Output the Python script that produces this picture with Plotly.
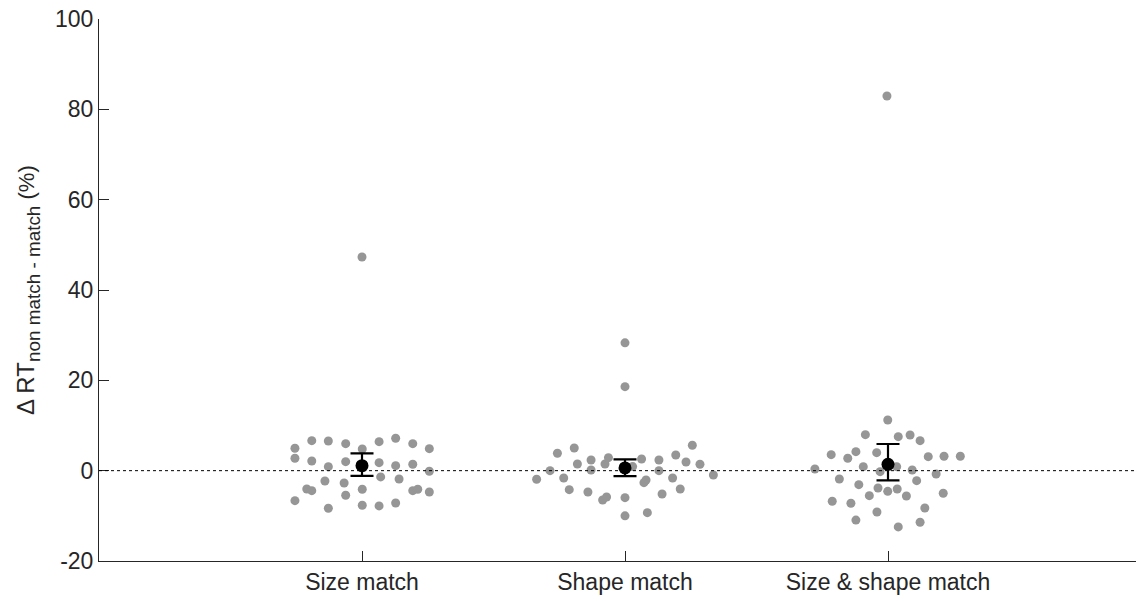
import plotly.graph_objects as go

# ---- data ----
categories = ["Size match", "Shape match", "Size & shape match"]
cat_pos = [1, 2, 3]

size_x = [0.745, 0.809, 0.872, 0.938, 1.001, 1.065, 1.128, 1.193, 1.256,
          0.745, 0.809, 0.872, 0.938, 1.065, 1.128, 1.193, 1.256,
          0.859, 0.932, 1.071, 1.141,
          0.790, 0.809, 0.938, 1.001, 1.193, 1.212, 1.256,
          0.745, 0.872, 1.001, 1.065, 1.128,
          1.000]
size_y = [4.96, 6.64, 6.58, 5.98, 4.80, 6.42, 7.17, 5.98, 4.87,
          2.75, 2.15, 0.89, 1.99, 1.77, 1.11, 1.42, -0.13,
          -2.28, -2.72, -1.39, -1.84,
          -4.05, -4.43, -5.45, -4.12, -4.43, -4.12, -4.72,
          -6.64, -8.32, -7.66, -7.81, -7.15,
          47.3]

shape_x = [2.000, 2.000,
           1.743, 1.807, 1.819, 1.871, 1.871, 1.924, 1.937, 2.029, 2.063,
           2.129, 2.129, 2.193, 2.232, 2.256, 2.285, 2.336, 1.715,
           1.664, 1.767, 1.788, 1.859, 1.915, 1.930, 2.000, 2.000, 2.085,
           2.072, 2.080, 2.141, 2.181, 2.210]
shape_y = [28.3, 18.6,
           3.85, 5.03, 1.48, 2.37, 0.15, 1.48, 2.88, 0.90, 2.59,
           2.37, 0.00, 3.48, 1.93, 5.62, 1.42, -0.95, 0.00,
           -1.90, -1.62, -4.21, -4.72, -6.49, -5.82, -5.98, -10.0, -9.30,
           -2.66, -2.06, -5.16, -1.62, -4.05]

both_x = [2.999, 2.914, 3.039, 3.084, 3.122, 2.784, 2.847, 2.878, 2.957,
          3.153, 3.213, 3.275, 2.722, 2.906, 2.970, 3.033, 3.092, 3.183,
          2.815, 2.889, 3.109, 2.962, 2.999, 3.035, 2.929, 3.070, 3.210,
          2.788, 2.859, 2.958, 3.140, 2.878, 3.122, 3.039, 2.996]
both_y = [11.22, 7.97, 7.53, 7.90, 6.64, 3.54, 2.75, 4.21, 3.98,
          3.10, 3.19, 3.19, 0.38, 0.89, -0.22, 0.89, 0.15, -0.73,
          -1.84, -3.10, -2.21, -3.83, -4.57, -4.05, -5.53, -5.60, -5.01,
          -6.77, -7.22, -9.14, -8.26, -10.95, -11.43, -12.46, 82.95]

means = [1.1, 0.6, 1.4]
ci_upper = [3.85, 2.5, 5.9]
ci_lower = [-1.17, -1.2, -2.13]

y_ticks = [-20, 0, 20, 40, 60, 80, 100]
y_tick_labels = ["-20", "0", "20", "40", "60", "80", "100"]

# ---- figure ----
FONT = "Liberation Sans, Arial, Helvetica, sans-serif"
AX = "#262626"
GREY = "#969696"

fig = go.Figure()
for xs, ys in [(size_x, size_y), (shape_x, shape_y), (both_x, both_y)]:
    fig.add_trace(go.Scatter(x=xs, y=ys, mode="markers",
                             marker=dict(color=GREY, size=9, line=dict(width=0)),
                             showlegend=False, hoverinfo="skip"))

fig.add_trace(go.Scatter(
    x=cat_pos, y=means, mode="markers",
    marker=dict(color="black", size=13, line=dict(width=0)),
    error_y=dict(type="data", symmetric=False,
                 array=[u - m for u, m in zip(ci_upper, means)],
                 arrayminus=[m - l for m, l in zip(means, ci_lower)],
                 color="black", thickness=2.2, width=11.5),
    showlegend=False))

fig.add_shape(type="line", xref="paper", yref="y", x0=0, x1=1, y0=0, y1=0,
              line=dict(color="black", width=1, dash="dot"), layer="above")

# page body has an 8px margin; plot area laid out so it lands at
# x 99..1144, y 19..561 in the window
L, T, B, R = 91, 11, 48, 8
plot_w = 1144 - L - R

fig.add_annotation(
    text=("<span style='font-size:24px'>Δ RT</span>"
          "<sub>non match - match</sub>"
          "<span style='font-size:22px'> (%)</span>"),
    xref="paper", yref="paper", x=(20 - L) / plot_w, y=0.5,
    xanchor="center", yanchor="middle", textangle=-90, showarrow=False,
    font=dict(family=FONT, size=27, color=AX))

fig.update_layout(
    width=1144, height=601,
    margin=dict(l=L, r=R, t=T, b=B, autoexpand=False),
    paper_bgcolor="white", plot_bgcolor="white",
    font=dict(family=FONT, size=23, color=AX),
    xaxis=dict(range=[0, plot_w / 263], tickvals=cat_pos, ticktext=categories,
               automargin=False, ticklabeloverflow="allow",
               showgrid=False, zeroline=False, showline=True, linecolor=AX,
               linewidth=1, ticks="inside", ticklen=10, tickcolor=AX,
               tickfont=dict(family=FONT, size=23, color=AX)),
    yaxis=dict(range=[-20, 100], tickvals=y_ticks, ticktext=y_tick_labels,
               automargin=False, ticklabeloverflow="allow", showgrid=False,
               zeroline=False, showline=True, linecolor=AX, linewidth=1,
               ticks="inside", ticklen=10, tickcolor=AX,
               tickfont=dict(family=FONT, size=23, color=AX)),
)

fig.write_html("out.html")
